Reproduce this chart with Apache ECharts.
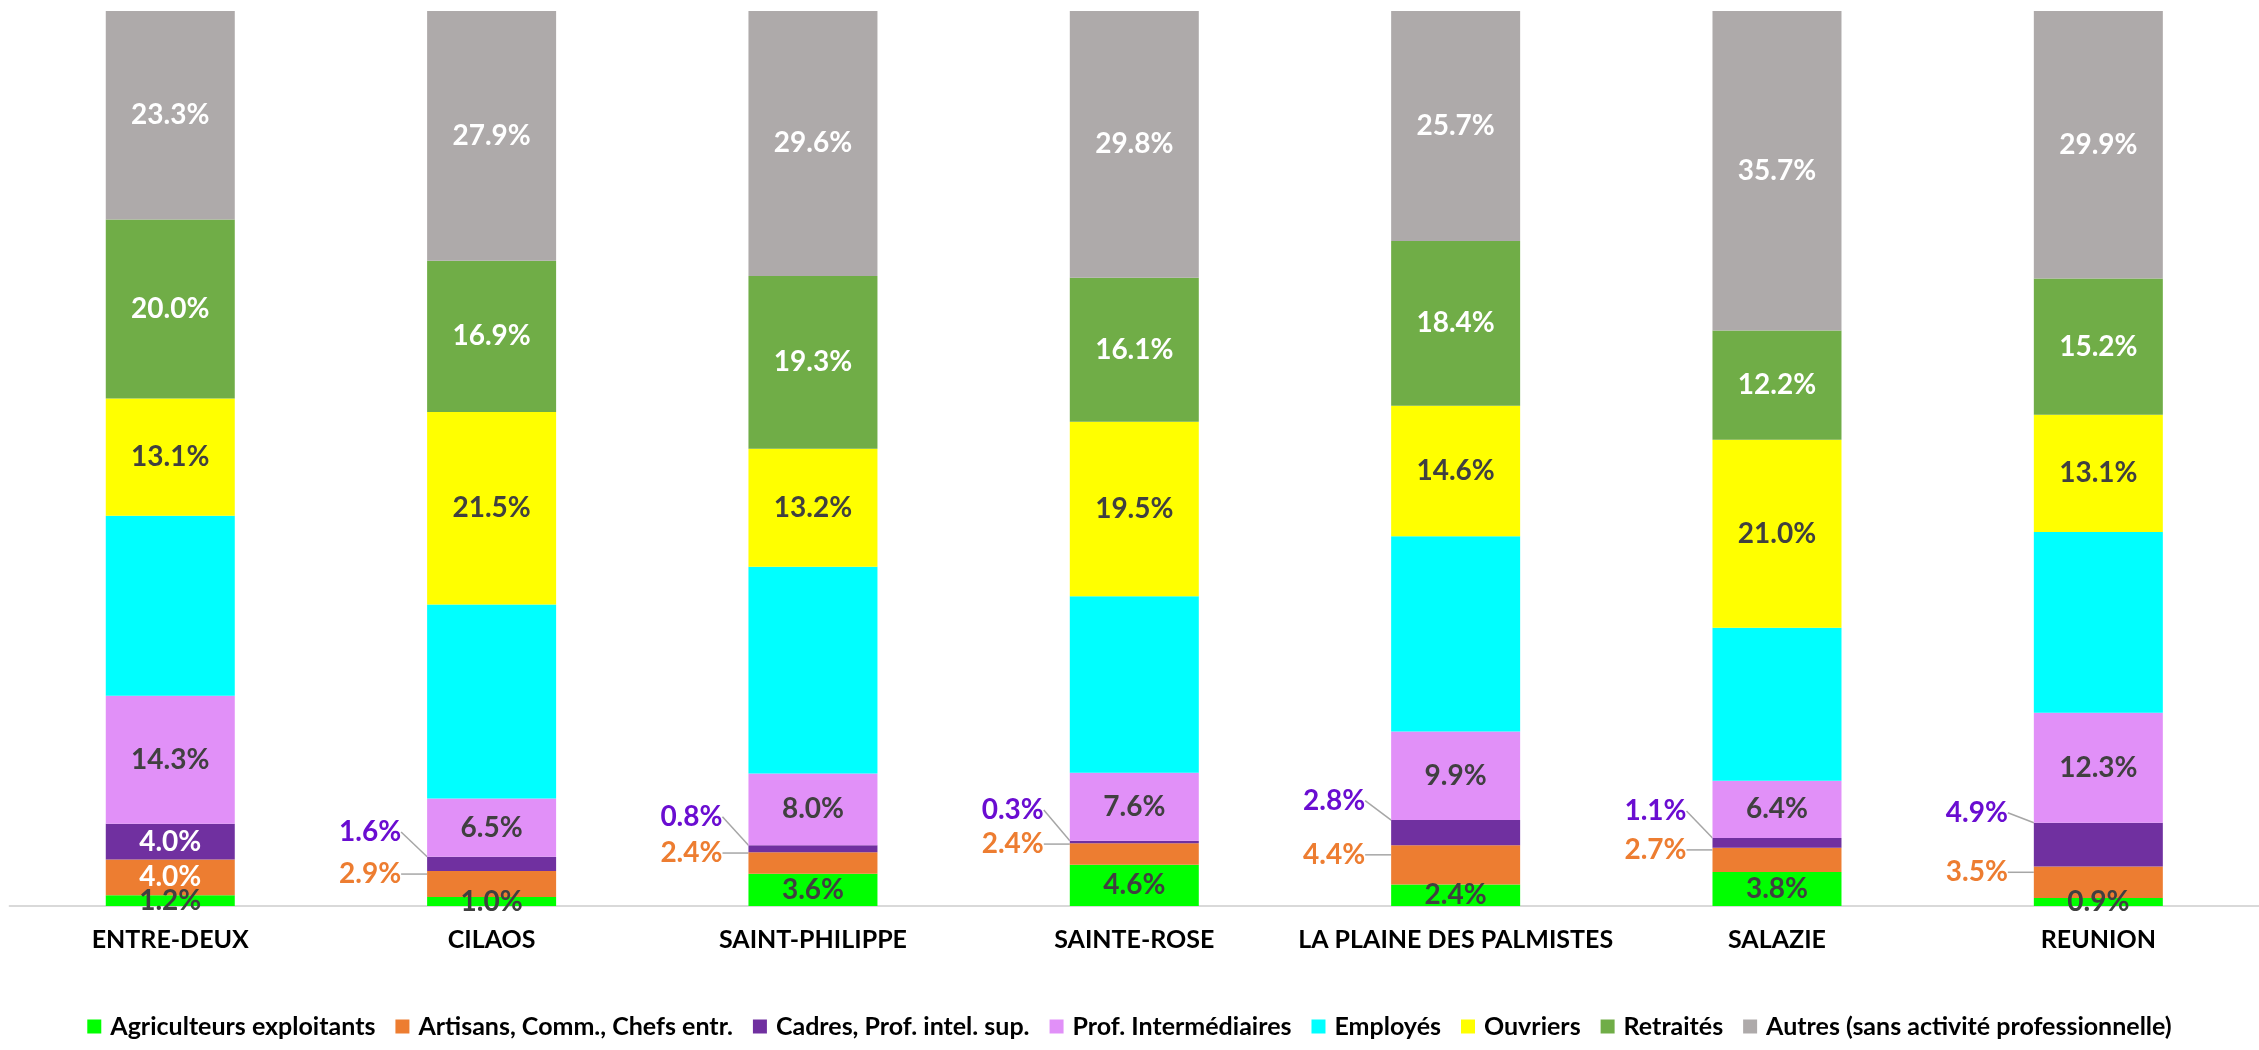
<!DOCTYPE html>
<html>
<head>
    <meta charset="utf-8">
    <title>CSP par commune</title>
    <script src="https://cdn.jsdelivr.net/npm/echarts@6/dist/echarts.min.js"></script>
    <style>
        html, body { margin: 0; padding: 0; background: #fff; }
        #chart1 { width: 2259px; height: 1050px; }
    </style>
</head>
<body>
<div id="chart1"></div>
<script>
    // données (en %)
    var communes = ['ENTRE-DEUX', 'CILAOS', 'SAINT-PHILIPPE', 'SAINTE-ROSE', 'LA PLAINE DES PALMISTES', 'SALAZIE', 'REUNION'];
    var agriculteurs = [1.2, 1.0, 3.6, 4.6, 2.4, 3.8, 0.9];
    var artisans = [4.0, 2.9, 2.4, 2.4, 4.4, 2.7, 3.5];
    var cadres = [4.0, 1.6, 0.8, 0.3, 2.8, 1.1, 4.9];
    var profInter = [14.3, 6.5, 8.0, 7.6, 9.9, 6.4, 12.3];
    var employes = [20.1, 21.7, 23.1, 19.7, 21.8, 17.1, 20.2];
    var ouvriers = [13.1, 21.5, 13.2, 19.5, 14.6, 21.0, 13.1];
    var retraites = [20.0, 16.9, 19.3, 16.1, 18.4, 12.2, 15.2];
    var autres = [23.3, 27.9, 29.6, 29.8, 25.7, 35.7, 29.9];
    // communes dont les petites catégories ont l'étiquette dans la barre
    var labelsDedans = ['ENTRE-DEUX'];

    var fontTxt = 'Lato, "Open Sans", sans-serif';
    var sombre = '#404040';

    function fmt(p) {
        return p.value.toFixed(1) + '%';
    }

    // série avec étiquette centrée dans la barre
    function serieSimple(nom, valeurs, couleur, couleurTxt, avecLabel) {
        return {
            name: nom,
            type: 'bar',
            stack: 'total',
            barWidth: 129,
            data: valeurs,
            itemStyle: { color: couleur },
            label: {
                show: avecLabel,
                position: 'inside',
                formatter: fmt,
                color: couleurTxt,
                fontFamily: fontTxt,
                fontWeight: 'bold',
                fontSize: 28
            }
        };
    }

    // série dont les étiquettes sortent à gauche avec un trait de rappel
    function serieRappel(nom, valeurs, couleur, couleurTxt, decalY) {
        var data = valeurs.map(function (v, i) {
            if (labelsDedans.indexOf(communes[i]) >= 0) {
                return { value: v, label: { color: '#fff' }, labelLine: { show: false } };
            }
            return { value: v };
        });
        return {
            name: nom,
            type: 'bar',
            stack: 'total',
            barWidth: 129,
            data: data,
            itemStyle: { color: couleur },
            label: {
                show: true,
                position: 'inside',
                formatter: fmt,
                color: couleurTxt,
                fontFamily: fontTxt,
                fontWeight: 'bold',
                fontSize: 28
            },
            labelLine: {
                show: true,
                lineStyle: { color: '#A6A6A6', width: 1.5 }
            },
            labelLayout: function (params) {
                if (labelsDedans.indexOf(communes[params.dataIndex]) >= 0) {
                    return {};
                }
                return {
                    x: params.rect.x - 26,
                    y: params.rect.y + params.rect.height / 2 + decalY,
                    align: 'right',
                    verticalAlign: 'middle'
                };
            }
        };
    }

    var myChart1 = echarts.init(document.getElementById('chart1'));
    myChart1.setOption({
        animation: false,
        grid: {
            left: 9.6,
            right: -17.4,
            top: 11,
            bottom: 144
        },
        legend: {
            bottom: 6,
            left: 'center',
            itemWidth: 14,
            itemHeight: 14,
            itemGap: 20,
            icon: 'rect',
            textStyle: {
                fontFamily: fontTxt,
                fontWeight: 'bold',
                fontSize: 25,
                color: '#000',
                padding: [0, 0, 0, 4]
            }
        },
        xAxis: {
            type: 'category',
            data: communes,
            axisTick: { show: false },
            axisLine: { lineStyle: { color: '#D9D9D9', width: 2 } },
            axisLabel: {
                interval: 0,
                margin: 21,
                color: '#000',
                fontFamily: fontTxt,
                fontWeight: 'bold',
                fontSize: 25
            }
        },
        yAxis: {
            type: 'value',
            min: 0,
            max: 100,
            show: false
        },
        series: [
            serieSimple('Agriculteurs exploitants', agriculteurs, '#00FF00', sombre, true),
            serieRappel('Artisans, Comm., Chefs entr.', artisans, '#ED7D31', '#ED7D31', -10),
            serieRappel('Cadres, Prof. intel. sup.', cadres, '#7030A0', '#6A0DD1', -32),
            serieSimple('Prof. Intermédiaires', profInter, '#E190F8', sombre, true),
            serieSimple('Employés', employes, '#00FFFF', sombre, false),
            serieSimple('Ouvriers', ouvriers, '#FFFF00', sombre, true),
            serieSimple('Retraités', retraites, '#70AD47', '#fff', true),
            serieSimple('Autres (sans activité professionnelle)', autres, '#AEAAAA', '#fff', true)
        ]
    });
</script>
</body>
</html>
